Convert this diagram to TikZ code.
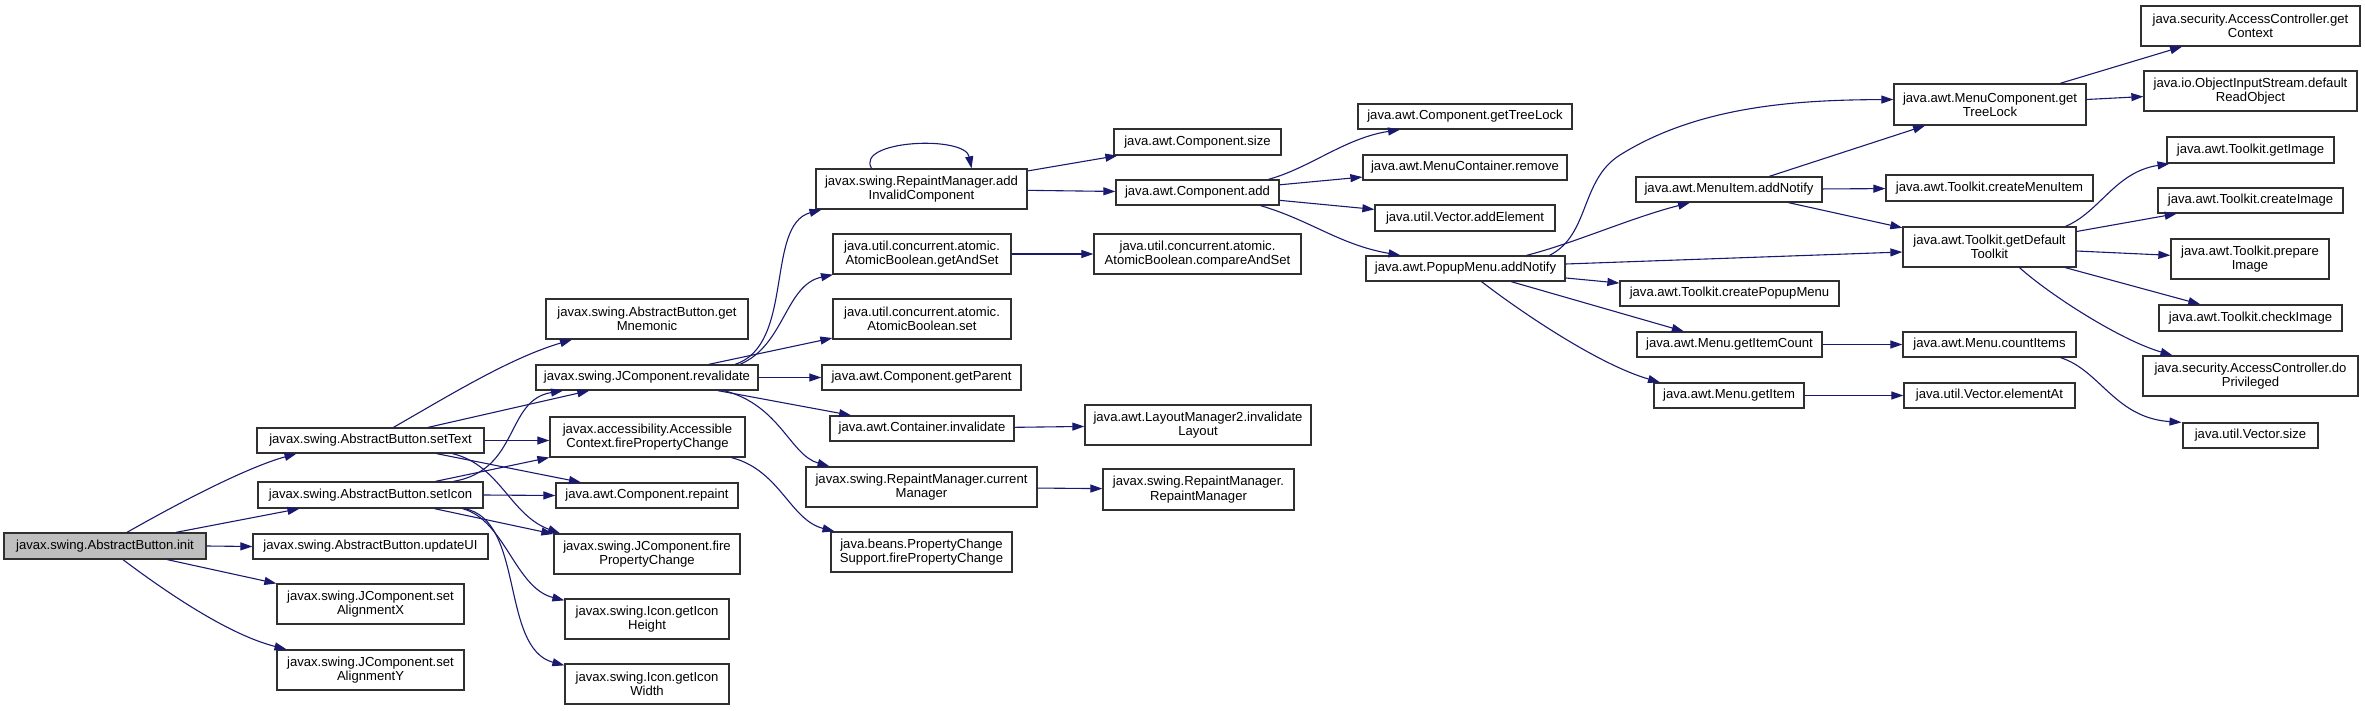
\documentclass[tikz,border=0pt]{standalone}
\usepackage{fontspec}
\setmainfont{Liberation Sans}
\usetikzlibrary{arrows.meta}
\definecolor{edgecol}{HTML}{191970}
\definecolor{rootfill}{HTML}{BFBFBF}
\definecolor{boxline}{HTML}{303030}
\newcommand\mybox[7][]{%
  \pgfmathsetmacro\bxcx{(#3+#5)/2}%
  \pgfmathsetmacro\bxcy{(#4+#6)/2}%
  \pgfmathsetmacro\bxw{#5-#3}%
  \pgfmathsetmacro\bxh{#6-#4}%
  \node[box,minimum width=\bxw pt,minimum height=\bxh pt,#1] (#2) at (\bxcx,\bxcy) {#7};}
\tikzset{
  box/.style={draw=boxline,line width=1.3pt,fill=white,inner sep=0pt,align=center,
    font=\fontsize{13.1}{14.3}\selectfont},
  rootbox/.style={fill=rootfill},
  e/.style={draw=edgecol,line width=1.1pt,-{Triangle[length=12pt,width=8pt]}},
}
\begin{document}
\begin{tikzpicture}[x=1pt,y=-1pt]
\useasboundingbox (0,0) rectangle (2365,711);
% column 0/1
\mybox[rootbox]{init}{4}{533}{206}{559}{javax.swing.AbstractButton.init}
\mybox{setText}{257}{428}{484}{453}{javax.swing.AbstractButton.setText}
\mybox{setIcon}{258}{482}{483}{508}{javax.swing.AbstractButton.setIcon}
\mybox{updateUI}{253}{534}{488}{559}{javax.swing.AbstractButton.updateUI}
\mybox{alignX}{277}{584}{464}{624}{javax.swing.JComponent.set\\AlignmentX}
\mybox{alignY}{277}{650}{464}{690}{javax.swing.JComponent.set\\AlignmentY}
% column 2
\mybox{mnemonic}{546}{299}{748}{339}{javax.swing.AbstractButton.get\\Mnemonic}
\mybox{revalidate}{536}{365}{758}{390}{javax.swing.JComponent.revalidate}
\mybox{accctx}{550}{417}{745}{457}{javax.accessibility.Accessible\\Context.firePropertyChange}
\mybox{repaint}{556}{483}{738}{508}{java.awt.Component.repaint}
\mybox{jfire}{554}{534}{740}{574}{javax.swing.JComponent.fire\\PropertyChange}
\mybox{iconH}{565}{599}{729}{639}{javax.swing.Icon.getIcon\\Height}
\mybox{iconW}{565}{664}{729}{704}{javax.swing.Icon.getIcon\\Width}
% column 3
\mybox{addinv}{816}{169}{1027}{209}{javax.swing.RepaintManager.add\\InvalidComponent}
\mybox{getandset}{833}{234}{1011}{274}{java.util.concurrent.atomic.\\AtomicBoolean.getAndSet}
\mybox{abset}{833}{299}{1011}{339}{java.util.concurrent.atomic.\\AtomicBoolean.set}
\mybox{getparent}{822}{365}{1021}{390}{java.awt.Component.getParent}
\mybox{cinval}{830}{416}{1014}{441}{java.awt.Container.invalidate}
\mybox{curmgr}{806}{467}{1037}{507}{javax.swing.RepaintManager.current\\Manager}
\mybox{pcs}{831}{532}{1012}{572}{java.beans.PropertyChange\\Support.firePropertyChange}
% column 4
\mybox{csize}{1114}{129}{1281}{155}{java.awt.Component.size}
\mybox{cadd}{1116}{180}{1279}{205}{java.awt.Component.add}
\mybox{cas}{1094}{234}{1301}{274}{java.util.concurrent.atomic.\\AtomicBoolean.compareAndSet}
\mybox{invlayout}{1085}{405}{1311}{445}{java.awt.LayoutManager2.invalidate\\Layout}
\mybox{rmrm}{1103}{469}{1294}{510}{javax.swing.RepaintManager.\\RepaintManager}
% column 5
\mybox{ctreelock}{1358}{104}{1572}{129}{java.awt.Component.getTreeLock}
\mybox{mcremove}{1363}{155}{1567}{180}{java.awt.MenuContainer.remove}
\mybox{addelem}{1375}{205}{1555}{231}{java.util.Vector.addElement}
\mybox{popadd}{1366}{256}{1565}{281}{java.awt.PopupMenu.addNotify}
% column 6
\mybox{miadd}{1636}{177}{1822}{202}{java.awt.MenuItem.addNotify}
\mybox{cpopup}{1620}{281}{1839}{306}{java.awt.Toolkit.createPopupMenu}
\mybox{getitemcount}{1637}{332}{1822}{357}{java.awt.Menu.getItemCount}
\mybox{getitem}{1654}{383}{1804}{408}{java.awt.Menu.getItem}
% column 7
\mybox{mtreelock}{1894}{84}{2086}{125}{java.awt.MenuComponent.get\\TreeLock}
\mybox{cmenuitem}{1886}{175}{2093}{201}{java.awt.Toolkit.createMenuItem}
\mybox{deftk}{1903}{227}{2076}{267}{java.awt.Toolkit.getDefault\\Toolkit}
\mybox{countitems}{1903}{332}{2076}{357}{java.awt.Menu.countItems}
\mybox{elementat}{1904}{383}{2075}{408}{java.util.Vector.elementAt}
% column 8
\mybox{getctx}{2141}{6}{2360}{46}{java.security.AccessController.get\\Context}
\mybox{readobj}{2144}{71}{2357}{111}{java.io.ObjectInputStream.default\\ReadObject}
\mybox{getimage}{2167}{137}{2334}{163}{java.awt.Toolkit.getImage}
\mybox{createimage}{2158}{188}{2343}{213}{java.awt.Toolkit.createImage}
\mybox{prepimage}{2171}{239}{2329}{279}{java.awt.Toolkit.prepare\\Image}
\mybox{checkimage}{2159}{305}{2342}{331}{java.awt.Toolkit.checkImage}
\mybox{doprivileged}{2143}{356}{2358}{396}{java.security.AccessController.do\\Privileged}
\mybox{vsize}{2183}{423}{2318}{448}{java.util.Vector.size}

% edges from init
\draw[e] ([xshift=22pt]init.north) .. controls (175,505) and (245,468) .. ([xshift=-74pt]setText.south);
\draw[e] (init) -- (setIcon);
\draw[e] (init.east) -- (updateUI.west);
\draw[e] (init) -- (alignX);
\draw[e] ([xshift=18pt]init.south) .. controls (170,595) and (230,635) .. ([xshift=-84pt]alignY.north);
% edges from setText
\draw[e] ([xshift=23pt]setText.north) .. controls (450,395) and (510,358) .. ([xshift=-75pt]mnemonic.south);
\draw[e] (setText) -- (revalidate);
\draw[e] (setText.east) -- (setText.east -| accctx.west);
\draw[e] (setText) -- (repaint);
\draw[e] ([xshift=82pt]setText.south) .. controls (500,465) and (510,515) .. ([xshift=-87pt]jfire.north);
% edges from setIcon
\draw[e] ([xshift=83pt]setIcon.north) .. controls (520,470) and (505,400) .. ([xshift=-84pt]revalidate.south);
\draw[e] (setIcon) -- (accctx);
\draw[e] (setIcon.east) -- (repaint.west);
\draw[e] (setIcon) -- (jfire);
\draw[e] ([xshift=92pt]setIcon.south) .. controls (505,520) and (515,588) .. ([yshift=-2pt]iconH.north west);
\draw[e] ([xshift=94pt]setIcon.south) .. controls (525,520) and (500,648) .. ([yshift=-2pt]iconW.north west);
% edges from revalidate
\draw[e] ([xshift=88pt]revalidate.north) .. controls (795,345) and (765,225) .. ([xshift=-100pt]addinv.south);
\draw[e] ([xshift=93pt]revalidate.north) .. controls (785,345) and (785,285) .. ([xshift=-89pt]getandset.south);
\draw[e] (revalidate) -- (abset);
\draw[e] (revalidate.east) -- (getparent.west);
\draw[e] (revalidate) -- (cinval);
\draw[e] ([xshift=77pt]revalidate.south) .. controls (780,405) and (790,455) .. ([xshift=-92pt]curmgr.north);
\draw[e] ([xshift=84pt]accctx.south) .. controls (780,470) and (790,520) .. ([xshift=-87pt]pcs.north);
% column 3 -> 4
\draw[e] ([xshift=-50pt]addinv.north) .. controls (855,140) and (965,135) .. ([xshift=50pt]addinv.north);
\draw[e] (addinv) -- (csize);
\draw[e] (addinv) -- (cadd);
\draw[e] (getandset) -- (cas);
\draw[e] (cinval) -- (invlayout);
\draw[e] (curmgr) -- (rmrm);
% Component.add
\draw[e] ([xshift=71pt]cadd.north) .. controls (1310,168) and (1345,138) .. ([xshift=-65pt]ctreelock.south);
\draw[e] (cadd) -- (mcremove);
\draw[e] (cadd) -- (addelem);
\draw[e] ([xshift=63pt]cadd.south) .. controls (1310,220) and (1340,245) .. ([xshift=-65pt]popadd.north);
% PopupMenu.addNotify
\draw[e] ([xshift=84pt]popadd.north) .. controls (1590,235) and (1580,180) .. (1620,155)
   .. controls (1700,105) and (1800,100) .. ([yshift=5pt]mtreelock.west);
\draw[e] ([xshift=61pt]popadd.north) .. controls (1575,243) and (1630,218) .. ([xshift=-39pt]miadd.south);
\draw[e] ([yshift=4.5pt]popadd.east) -- ([yshift=-5pt]deftk.west);
\draw[e] (popadd) -- (cpopup);
\draw[e] (popadd) -- (getitemcount);
\draw[e] ([xshift=16pt]popadd.south) .. controls (1525,315) and (1600,365) .. ([xshift=-69pt]getitem.north);
% MenuItem.addNotify
\draw[e] (miadd) -- (mtreelock);
\draw[e] (miadd) -- (cmenuitem);
\draw[e] (miadd) -- (deftk);
% MenuComponent.getTreeLock
\draw[e] (mtreelock) -- (getctx);
\draw[e] (mtreelock) -- (readobj);
% getDefaultToolkit
\draw[e] ([xshift=76pt]deftk.north) .. controls (2100,212) and (2115,172) .. ([xshift=-81pt]getimage.south);
\draw[e] (deftk) -- (createimage);
\draw[e] (deftk) -- (prepimage);
\draw[e] (deftk) -- (checkimage);
\draw[e] ([xshift=30pt]deftk.south) .. controls (2050,295) and (2120,340) .. ([xshift=-78pt]doprivileged.north);
% Menu
\draw[e] (getitemcount) -- (countitems);
\draw[e] ([xshift=71pt]countitems.south) .. controls (2100,370) and (2115,418) .. ([xshift=-69pt]vsize.north);
\draw[e] (getitem) -- (elementat);
\end{tikzpicture}
\end{document}
